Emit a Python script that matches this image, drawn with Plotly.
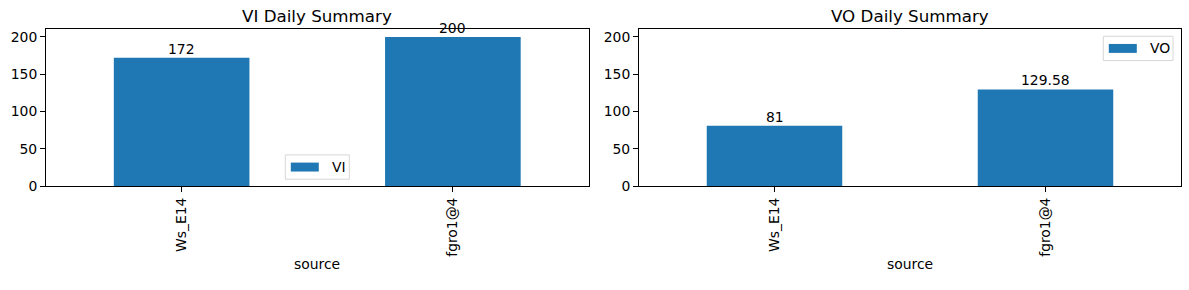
import plotly.graph_objects as go

# ---- data ----
categories = ["Ws_E14", "fgro1@4"]
vi_values = [172, 200]
vo_values = [81, 129.58]
series_names = ["VI", "VO"]
titles = ["VI Daily Summary", "VO Daily Summary"]
y_ticks = [0, 50, 100, 150, 200]
x_label = "source"

# ---- layout helpers ----
W, H = 1189, 290
BLUE = "#1f77b4"
FONT = "DejaVu Sans"


def px(x):
    return x / W


def py(y):
    return 1 - y / H


panels = [(46, 588.5), (639, 1181)]
top, bottom = 30.3, 191.3
legend_boxes = [(285.3, 349.3, 159.3, 184.3), (1103.3, 1173.0, 37.3, 62.3)]

fig = go.Figure()
shapes = []
annotations = []

for i, (vals, name, title) in enumerate(zip([vi_values, vo_values], series_names, titles)):
    sfx = "" if i == 0 else str(i + 1)
    fig.add_trace(go.Bar(
        x=categories, y=vals, name=name, width=0.5,
        marker=dict(color=BLUE, line=dict(width=0)),
        xaxis="x" + sfx, yaxis="y" + sfx, showlegend=False,
    ))
    # bar value labels
    for c, v in zip(categories, vals):
        annotations.append(dict(text=f"{v:g}", x=c, y=v, xref="x" + sfx, yref="y" + sfx,
                                xanchor="center", yanchor="bottom", showarrow=False,
                                borderpad=0, yshift=0,
                                font=dict(size=13.9, color="black", family=FONT)))
    x0, x1 = panels[i]
    axis_common = dict(
        showline=True, linecolor="black", linewidth=1, mirror=True,
        ticks="outside", ticklen=5, tickcolor="black", tickwidth=1,
        showgrid=False, zeroline=False,
        tickfont=dict(size=13.9, color="black", family=FONT),
    )
    fig.update_layout(**{
        "xaxis" + sfx: dict(domain=[px(x0), px(x1)], anchor="y" + sfx,
                            range=[-0.5, 1.5], tickangle=-90, **axis_common),
        "yaxis" + sfx: dict(domain=[py(bottom), py(top)], anchor="x" + sfx,
                            range=[0, 210], tickvals=y_ticks, **axis_common),
    })
    cx = (x0 + x1) / 2
    annotations.append(dict(text=title, x=px(cx), y=py(16.8), xref="paper", yref="paper",
                            xanchor="center", yanchor="middle", showarrow=False,
                            font=dict(size=16.7, color="black", family=FONT)))
    annotations.append(dict(text=x_label, x=px(cx), y=py(271.7), xref="paper", yref="paper",
                            xanchor="center", yanchor="middle", showarrow=False,
                            font=dict(size=13.9, color="black", family=FONT)))
    # legend
    lx0, lx1, ly0, ly1 = legend_boxes[i]
    shapes.append(dict(type="rect", xref="paper", yref="paper",
                       x0=px(lx0), x1=px(lx1), y0=py(ly1), y1=py(ly0),
                       line=dict(color="#d6d6d6", width=1), fillcolor="rgba(255,255,255,0.8)"))
    shapes.append(dict(type="rect", xref="paper", yref="paper",
                       x0=px(lx0 + 5.5), x1=px(lx0 + 33.5),
                       y0=py((ly0 + ly1) / 2 + 4.6), y1=py((ly0 + ly1) / 2 - 4.6),
                       line=dict(width=0), fillcolor=BLUE))
    annotations.append(dict(text=name, x=px(lx0 + 44.5), y=py((ly0 + ly1) / 2), xref="paper", yref="paper",
                            xanchor="left", yanchor="middle", showarrow=False,
                            font=dict(size=13.9, color="black", family=FONT)))

fig.update_layout(
    width=W, height=H, margin=dict(l=0, r=0, t=0, b=0),
    paper_bgcolor="white", plot_bgcolor="white",
    font=dict(family=FONT, color="black"),
    shapes=shapes, annotations=annotations, showlegend=False,
)

fig.write_html("out.html")
